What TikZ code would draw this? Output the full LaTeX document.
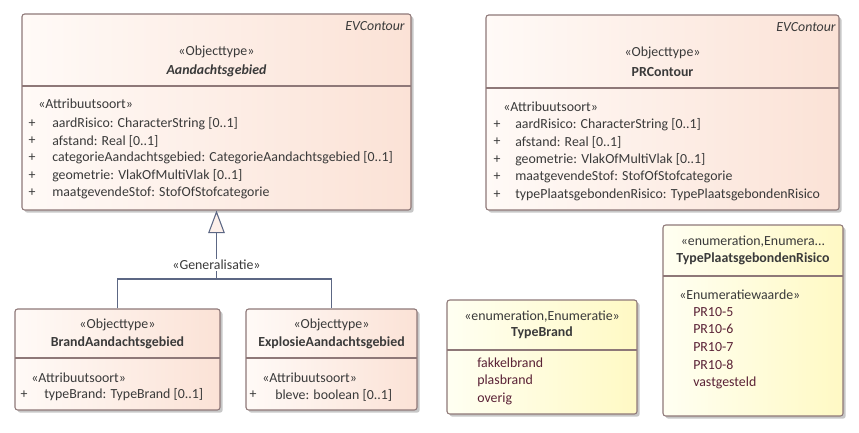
\documentclass[tikz,border=0pt]{standalone}
\usepackage{fontspec}
\setmainfont{Carlito}
\usetikzlibrary{positioning,fit,shadows,arrows.meta}
\definecolor{objleft}{HTML}{FFFAF7}
\definecolor{objright}{HTML}{FBE2D6}
\definecolor{enumleft}{HTML}{FFFFF2}
\definecolor{enumright}{HTML}{FFF9C4}
\definecolor{boxline}{HTML}{8E7878}
\definecolor{genline}{HTML}{5C6784}
\definecolor{txt}{HTML}{3A3A3A}
\definecolor{lit}{HTML}{5A2236}
\newcommand{\umlfont}{\fontsize{10.4}{12}\selectfont}
\tikzset{
  objbox/.style={draw=boxline, line width=0.8pt, rounded corners=2pt, inner sep=0pt,
    left color=objleft, right color=objright,
    drop shadow={shadow xshift=2pt, shadow yshift=-2pt, fill=black!22, opacity=1}},
  enumbox/.style={objbox, left color=enumleft, right color=enumright},
  sepline/.style={draw=boxline, line width=0.8pt},
  lbl/.style={inner sep=0pt, text=txt, font=\umlfont},
  attr/.style={lbl, anchor=west},
  litr/.style={attr, text=lit},
  tag/.style={lbl, anchor=east, font=\umlfont\itshape},
  gen/.style={draw=genline, line width=0.8pt}
}

\begin{document}
\begin{tikzpicture}[x=0.75pt, y=-0.75pt]
\useasboundingbox (0,0) rectangle (859,432);

\node[objbox, fit={(22,14) (411,210)}] (aandacht) {};
\node[objbox, fit={(486,15) (839,210)}] (prcontour) {};
\node[objbox, fit={(15,309) (220,410)}] (brand) {};
\node[objbox, fit={(246,309) (417,410)}] (explosie) {};
\node[enumbox, fit={(447,300) (637,414)}] (typebrand) {};
\node[enumbox, fit={(663,225) (843,416)}] (typepr) {};

\draw[sepline] (22,86) -- (411,86);
\draw[sepline] (486,88) -- (839,88);
\draw[sepline] (15,358) -- (220,358);
\draw[sepline] (246,358) -- (417,358);
\draw[sepline] (447,350) -- (637,350);
\draw[sepline] (663,276) -- (843,276);

\node[tag] (aandachtTag) at (405,26) {EVContour};
\node[lbl] (aandachtSt) at (216.5,52) {«Objecttype»};
\node[lbl, font=\umlfont\bfseries\itshape] (aandachtNm) at (216.5,71) {Aandachtsgebied};
\node[attr] (aandachtAt) at (38,104) {«Attribuutsoort»};
\foreach \y/\t in {124/{aardRisico: CharacterString [0..1]},
                   141/{afstand: Real [0..1]},
                   158/{categorieAandachtsgebied: CategorieAandachtsgebied [0..1]},
                   176/{geometrie: VlakOfMultiVlak [0..1]},
                   193/{maatgevendeStof: StofOfStofcategorie}} {
  \node[lbl] (aplus\y) at (32,\y) {+};
  \node[attr] (aattr\y) at (52,\y) {\t};
}

\node[tag] (prTag) at (836,27) {EVContour};
\node[lbl] (prSt) at (662.5,53) {«Objecttype»};
\node[lbl, font=\umlfont\bfseries] (prNm) at (662.5,72) {PRContour};
\node[attr] (prAt) at (503,107) {«Attribuutsoort»};
\foreach \y/\t in {125/{aardRisico: CharacterString [0..1]},
                   142/{afstand: Real [0..1]},
                   160/{geometrie: VlakOfMultiVlak [0..1]},
                   177/{maatgevendeStof: StofOfStofcategorie},
                   195/{typePlaatsgebondenRisico: TypePlaatsgebondenRisico}} {
  \node[lbl] (pplus\y) at (497,\y) {+};
  \node[attr] (pattr\y) at (515,\y) {\t};
}

\node[lbl] (brandSt) at (117.5,325) {«Objecttype»};
\node[lbl, font=\umlfont\bfseries] (brandNm) at (117.5,343) {BrandAandachtsgebied};
\node[attr] (brandAt) at (31,378) {«Attribuutsoort»};
\node[lbl] (brandPlus) at (24,395) {+};
\node[attr] (brandAttr) at (44,395) {typeBrand: TypeBrand [0..1]};

\node[lbl] (explSt) at (331.5,325) {«Objecttype»};
\node[lbl, font=\umlfont\bfseries] (explNm) at (331.5,343) {ExplosieAandachtsgebied};
\node[attr] (explAt) at (262,378) {«Attribuutsoort»};
\node[lbl] (explPlus) at (253,395) {+};
\node[attr] (explAttr) at (275,395) {bleve: boolean [0..1]};

\node[lbl] (tbSt) at (542,317) {«enumeration,Enumeratie»};
\node[lbl, font=\umlfont\bfseries] (tbNm) at (542,333) {TypeBrand};
\node[litr] (tb1) at (477,363) {fakkelbrand};
\node[litr] (tb2) at (477,381) {plasbrand};
\node[litr] (tb3) at (477,399) {overig};

\node[lbl] (tpSt) at (753,242) {«enumeration,Enumera...};
\node[lbl, font=\umlfont\bfseries] (tpNm) at (753,259) {TypePlaatsgebondenRisico};
\node[attr] (tpAt) at (679,295) {«Enumeratiewaarde»};
\node[litr] (tp1) at (693,312) {PR10-5};
\node[litr] (tp2) at (693,329) {PR10-6};
\node[litr] (tp3) at (693,347) {PR10-7};
\node[litr] (tp4) at (693,365) {PR10-8};
\node[litr] (tp5) at (693,383) {vastgesteld};

\coordinate (split) at (216.5,279);
\draw[gen] (explosie.north) |- (split);
\draw[gen, -{Triangle[length=17pt, width=12.5pt, fill=objleft!60!objright]}] (brand.north) |- (split) -- (aandacht.south);
\node[lbl, fill=white, inner sep=1pt] (genLbl) at (216.5,265) {«Generalisatie»};
\end{tikzpicture}
\end{document}
